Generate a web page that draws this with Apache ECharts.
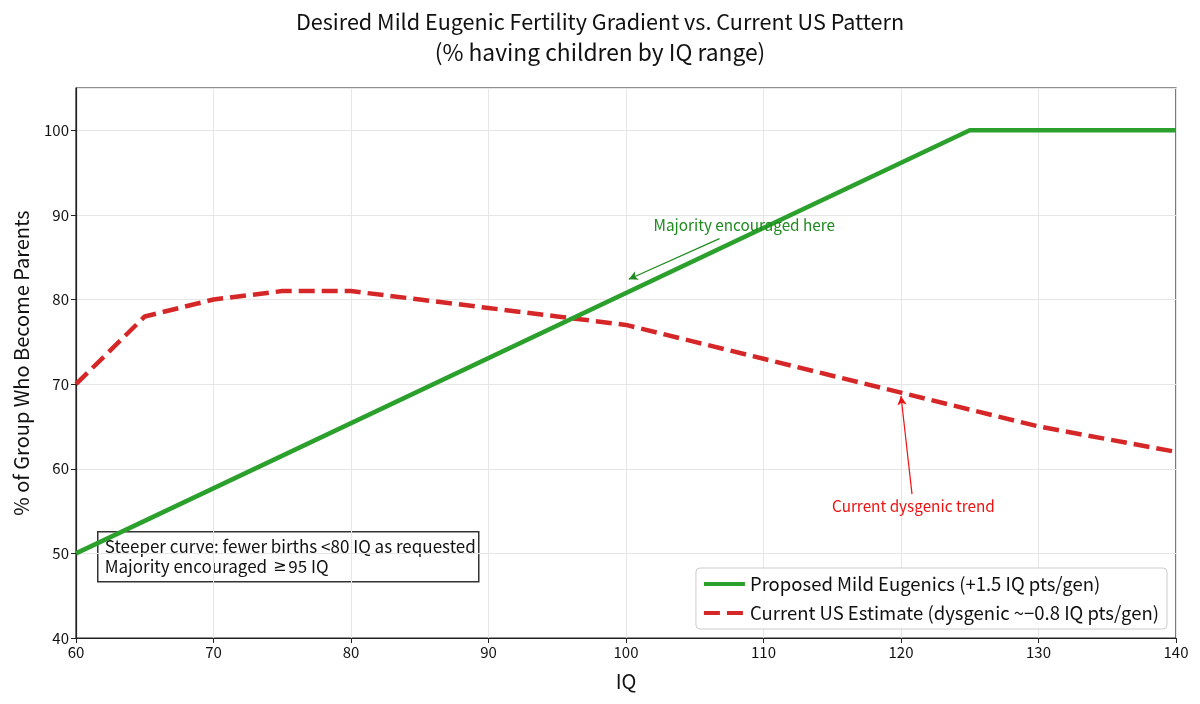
<!DOCTYPE html>
<html style="height: 100%">
<head>
	<meta charset="utf-8">
	<script src="https://cdn.jsdelivr.net/npm/echarts@6/dist/echarts.min.js"></script>
</head>
<body style="height: 100%; margin: 0; background: #fff">
<div id="container" style="width: 1200px; height: 704px"></div>
<script type="text/javascript">
    var dom = document.getElementById("container");
    var myChart = echarts.init(dom);

    var FONT = '"Noto Sans CJK SC", "Noto Sans", sans-serif';

    // proposed curve: vertices
    var proposedIQ = [60, 125, 140];
    var proposedPct = [50, 100, 100];

    // current US estimate, every 5 IQ points
    var currentIQ = [60, 65, 70, 75, 80, 85, 90, 95, 100, 105, 110, 115, 120, 125, 130, 135, 140];
    var currentPct = [70, 78, 80, 81, 81, 80, 79, 78, 77, 75, 73, 71, 69, 67, 65, 63.5, 62];

    var xTicks = [60, 140, 10];
    var yTicks = [40, 105, 10];

    var seriesNames = [
        'Proposed Mild Eugenics (+1.5 IQ pts/gen)',
        'Current US Estimate (dysgenic ~\u22120.8 IQ pts/gen)'
    ];

    // annotations (data coords)
    var greenNote = { text: 'Majority encouraged here', at: [108.6, 88.8], from: [106.8, 87.2], to: [100.2, 82.4] };
    var redNote = { text: 'Current dysgenic trend', at: [120.9, 55.6], from: [120.8, 57.0], to: [120.0, 68.6] };

    function pairs(xs, ys) {
        var out = [];
        for (var i = 0; i < xs.length; i++) out.push([xs[i], ys[i]]);
        return out;
    }

    function noteMarks(note, color) {
        return {
            markLine: {
                silent: true,
                animation: false,
                symbol: ['none', 'arrow'],
                symbolSize: [7, 9],
                label: { show: false },
                lineStyle: { color: color, width: 1.2, type: 'solid' },
                emphasis: { disabled: true },
                data: [[{ coord: note.from }, { coord: note.to }]]
            },
            markPoint: {
                silent: true,
                animation: false,
                symbol: 'circle',
                symbolSize: 1,
                itemStyle: { color: 'rgba(0,0,0,0)' },
                label: {
                    show: true,
                    position: 'inside',
                    formatter: note.text,
                    color: color,
                    fontSize: 15.3,
                    fontFamily: FONT
                },
                data: [{ coord: note.at }]
            }
        };
    }

    var g = noteMarks(greenNote, '#1f8a1f');
    var r = noteMarks(redNote, '#ee1111');

    var option = {
        backgroundColor: '#ffffff',
        animation: false,
        title: {
            text: 'Desired Mild Eugenic Fertility Gradient vs. Current US Pattern',
            subtext: '(% having children by IQ range)',
            left: 'center',
            top: 7,
            padding: 0,
            itemGap: 0,
            textStyle: {
                fontFamily: FONT,
                fontSize: 21.6,
                fontWeight: 'normal',
                lineHeight: 30,
                color: '#111'
            },
            subtextStyle: {
                fontFamily: FONT,
                fontSize: 22.8,
                fontWeight: 'normal',
                lineHeight: 30,
                color: '#111'
            }
        },
        grid: {
            left: 76,
            right: 24,
            top: 88,
            bottom: 66,
            show: true,
            borderColor: '#222',
            borderWidth: 1.2,
            backgroundColor: 'transparent'
        },
        legend: {
            orient: 'vertical',
            right: 33,
            bottom: 75,
            itemWidth: 41,
            itemHeight: 14,
            itemGap: 7,
            padding: [5, 8, 5, 6],
            borderColor: '#cccccc',
            borderWidth: 1,
            borderRadius: 4,
            backgroundColor: 'rgba(255,255,255,0.85)',
            itemStyle: { opacity: 0 },
            lineStyle: { width: 4 },
            textStyle: { fontFamily: FONT, fontSize: 18.5, lineHeight: 22, color: '#111' },
            data: seriesNames
        },
        xAxis: {
            type: 'value',
            min: xTicks[0],
            max: xTicks[1],
            interval: xTicks[2],
            name: 'IQ',
            nameLocation: 'middle',
            nameGap: 33,
            nameTextStyle: { fontFamily: FONT, fontSize: 20, color: '#111' },
            axisLine: { show: true, lineStyle: { color: '#222', width: 1.2 } },
            axisTick: { show: true, length: 5, lineStyle: { color: '#222' } },
            axisLabel: { fontFamily: FONT, fontSize: 15, color: '#111', margin: 7 },
            splitLine: { show: true, lineStyle: { color: '#e6e6e6', width: 1 } }
        },
        yAxis: {
            type: 'value',
            min: yTicks[0],
            max: yTicks[1],
            interval: yTicks[2],
            name: '% of Group Who Become Parents',
            nameLocation: 'middle',
            nameGap: 45,
            nameTextStyle: { fontFamily: FONT, fontSize: 20, color: '#111' },
            axisLine: { show: true, lineStyle: { color: '#222', width: 1.2 } },
            axisTick: { show: true, length: 5, lineStyle: { color: '#222' } },
            axisLabel: { fontFamily: FONT, fontSize: 15, color: '#111', margin: 7, showMaxLabel: false },
            splitLine: { show: true, lineStyle: { color: '#e6e6e6', width: 1 } }
        },
        series: [{
            name: seriesNames[0],
            type: 'line',
            data: pairs(proposedIQ, proposedPct),
            showSymbol: false,
            symbol: 'none',
            lineStyle: { color: '#2ca02c', width: 4.5 },
            itemStyle: { color: '#2ca02c' },
            z: 3,
            markLine: g.markLine,
            markPoint: g.markPoint
        }, {
            name: seriesNames[1],
            type: 'line',
            data: pairs(currentIQ, currentPct),
            showSymbol: false,
            symbol: 'none',
            lineStyle: { color: '#d62728', width: 4.5, type: [16, 7] },
            itemStyle: { color: '#d62728' },
            z: 2,
            markLine: r.markLine,
            markPoint: r.markPoint
        }],
        graphic: [{
            type: 'group',
            left: 97,
            top: 531,
            z: 10,
            children: [{
                type: 'rect',
                shape: { x: 0, y: 0, width: 381, height: 50 },
                style: { fill: '#ffffff', stroke: '#333', lineWidth: 1.5 }
            }, {
                type: 'text',
                x: 7,
                y: 5,
                style: {
                    text: 'Steeper curve: fewer births <80 IQ as requested\nMajority encouraged {ge|\u2265}95 IQ',
                    font: '17px ' + FONT,
                    lineHeight: 20,
                    fill: '#111',
                    rich: {
                        ge: { fontFamily: '"DejaVu Sans"', fontSize: 16, fill: '#111', lineHeight: 20, padding: [0, 2, 0, 2] }
                    }
                }
            }]
        }]
    };

    myChart.setOption(option, true);

    window.addEventListener('resize', function () {
        myChart.resize();
    });
</script>
</body>
</html>
